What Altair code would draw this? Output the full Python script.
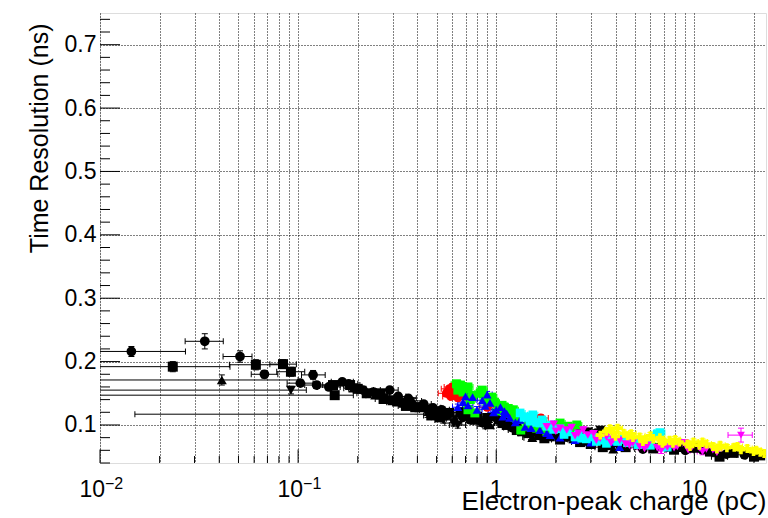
import altair as alt
import pandas as pd

# ---------------- data ----------------
# black series, split by marker: x, y, x-error low/high, y-error
BC_X   = [0.0144, 0.0338, 0.0509, 0.0676, 0.1026, 0.119, 0.124, 0.143, 0.167, 0.213, 0.29, 0.376, 0.53, 0.74, 1.02, 1.43, 2.27, 3.2, 7.3, 11.0, 17.9,
          0.18, 0.24, 0.32, 0.36, 0.43, 0.48, 0.56, 0.68, 0.85, 0.97, 1.2, 1.6, 2.0, 2.8, 3.7, 5.5, 9.0, 14.5]
BC_Y   = [0.216, 0.232, 0.208, 0.180, 0.166, 0.179, 0.163, 0.160, 0.168, 0.155, 0.155, 0.131, 0.124, 0.108, 0.108, 0.087, 0.081, 0.087, 0.065, 0.061, 0.053,
          0.165, 0.152, 0.145, 0.142, 0.133, 0.127, 0.115, 0.112, 0.104, 0.113, 0.096, 0.088, 0.085, 0.075, 0.068, 0.062, 0.060, 0.054]
BC_XLO = [0.005, 0.0269, 0.0418, 0.058, 0.088, 0.104, 0.108, 0.125, 0.147, 0.19, 0.26, 0.34, 0.48, 0.67, 0.93, 1.3, 2.07, 2.9, 6.6, 10.0, 16.3,
          0.16, 0.215, 0.29, 0.325, 0.39, 0.435, 0.51, 0.62, 0.77, 0.88, 1.09, 1.45, 1.82, 2.55, 3.35, 5.0, 8.2, 13.2]
BC_XHI = [0.027, 0.0419, 0.0585, 0.079, 0.119, 0.137, 0.142, 0.163, 0.19, 0.24, 0.32, 0.42, 0.58, 0.81, 1.12, 1.57, 2.5, 3.5, 8.0, 12.1, 19.7,
          0.2, 0.265, 0.35, 0.395, 0.47, 0.525, 0.61, 0.75, 0.93, 1.07, 1.32, 1.76, 2.2, 3.1, 4.05, 6.0, 9.9, 16.0]
BC_YE  = [0.008, 0.012, 0.009, 0.006, 0.005, 0.007, 0.005, 0.005, 0.005, 0.005, 0.005, 0.004, 0.004, 0.004, 0.004, 0.004, 0.004, 0.004, 0.004, 0.004, 0.004,
          0.005, 0.005, 0.005, 0.005, 0.004, 0.004, 0.004, 0.004, 0.004, 0.004, 0.004, 0.004, 0.004, 0.004, 0.004, 0.004, 0.004, 0.004]

BS_X   = [0.0233, 0.0612, 0.0839, 0.092, 0.153, 0.15, 0.183, 0.222, 0.26, 0.30, 0.34, 0.41, 0.46, 0.58, 0.66, 0.8, 0.9, 1.13, 1.27, 1.66, 2.65, 3.45, 7.9, 10.0, 13.4, 15.8, 20.0,
          0.2, 0.27, 0.35, 0.39, 0.47, 0.52, 0.72, 1.08, 1.35, 1.75, 2.1, 3.0, 4.5, 6.2, 12.0, 21.5]
BS_Y   = [0.192, 0.195, 0.196, 0.184, 0.147, 0.163, 0.163, 0.150, 0.150, 0.139, 0.135, 0.128, 0.124, 0.119, 0.120, 0.113, 0.111, 0.100, 0.092, 0.084, 0.073, 0.065, 0.061, 0.064, 0.050, 0.056, 0.050,
          0.157, 0.141, 0.130, 0.128, 0.115, 0.112, 0.118, 0.103, 0.090, 0.079, 0.077, 0.070, 0.065, 0.063, 0.058, 0.052]
BS_XLO = [0.005, 0.045, 0.072, 0.078, 0.005, 0.133, 0.163, 0.198, 0.23, 0.27, 0.30, 0.37, 0.41, 0.52, 0.60, 0.72, 0.82, 1.03, 1.15, 1.5, 2.4, 3.15, 7.2, 9.1, 12.2, 14.4, 18.2,
          0.18, 0.245, 0.32, 0.355, 0.43, 0.47, 0.65, 0.98, 1.22, 1.58, 1.9, 2.72, 4.1, 5.6, 10.9, 19.6]
BS_XHI = [0.0453, 0.08, 0.098, 0.108, 0.19, 0.17, 0.205, 0.25, 0.29, 0.335, 0.38, 0.46, 0.51, 0.64, 0.73, 0.88, 0.99, 1.24, 1.4, 1.83, 2.9, 3.8, 8.7, 11.0, 14.7, 17.4, 22.0,
          0.22, 0.3, 0.385, 0.43, 0.52, 0.57, 0.79, 1.19, 1.49, 1.93, 2.3, 3.3, 4.95, 6.8, 13.2, 23.5]
BS_YE  = [0.008, 0.008, 0.007, 0.007, 0.006, 0.005, 0.005, 0.005, 0.005, 0.005, 0.005, 0.004, 0.004, 0.004, 0.004, 0.004, 0.004, 0.004, 0.004, 0.004, 0.004, 0.004, 0.004, 0.004, 0.004, 0.004, 0.004,
          0.005, 0.005, 0.005, 0.004, 0.004, 0.004, 0.004, 0.004, 0.004, 0.004, 0.004, 0.004, 0.004, 0.004, 0.004, 0.004]

BU_X   = [0.0412, 0.19, 0.245, 0.315, 0.50, 0.93, 1.52, 1.87, 2.6, 3.9, 8.5, 0.38, 0.62, 0.78, 2.45]
BU_Y   = [0.171, 0.158, 0.147, 0.136, 0.120, 0.100, 0.080, 0.081, 0.092, 0.062, 0.064, 0.138, 0.110, 0.107, 0.078]
BU_XLO = [0.005, 0.17, 0.22, 0.28, 0.45, 0.85, 1.38, 1.7, 2.36, 3.55, 7.7, 0.345, 0.56, 0.71, 2.22]
BU_XHI = [0.1, 0.21, 0.27, 0.35, 0.55, 1.02, 1.67, 2.05, 2.86, 4.3, 9.3, 0.42, 0.68, 0.86, 2.7]
BU_YE  = [0.008, 0.005, 0.005, 0.005, 0.004, 0.004, 0.004, 0.004, 0.004, 0.004, 0.004, 0.005, 0.004, 0.004, 0.004]

BD_X   = [0.092, 0.45, 0.54, 0.61, 1.27, 1.5, 2.9, 3.35, 0.64, 0.88]
BD_Y   = [0.155, 0.117, 0.108, 0.103, 0.095, 0.081, 0.089, 0.092, 0.100, 0.098]
BD_XLO = [0.005, 0.015, 0.49, 0.55, 1.15, 1.36, 2.64, 3.05, 0.58, 0.8]
BD_XHI = [0.11, 0.5, 0.59, 0.67, 1.4, 1.65, 3.2, 3.7, 0.7, 0.97]
BD_YE  = [0.006, 0.005, 0.005, 0.005, 0.004, 0.004, 0.004, 0.004, 0.005, 0.004]

# coloured series: x, y, relative x-error, absolute y-error
RED_X = [0.56, 0.58, 0.59, 0.60, 0.61, 0.62, 0.63, 0.64, 0.9, 1.2, 1.68]
RED_Y = [0.150, 0.157, 0.145, 0.160, 0.152, 0.147, 0.156, 0.143, 0.128, 0.118, 0.111]
RED_ERR = (0.09, 0.005)

GREEN_X = [0.63, 0.64, 0.66, 0.68, 0.70, 0.72, 0.72, 0.74, 0.76, 0.78, 0.83, 0.85, 0.88, 0.9, 0.95, 0.98, 1.02, 1.07, 1.1, 1.15, 1.22, 1.24, 1.3, 1.33, 1.43, 1.49, 1.6, 1.7, 1.8, 2.1, 2.3, 2.4, 2.55]
GREEN_Y = [0.165, 0.155, 0.163, 0.152, 0.158, 0.124, 0.160, 0.140, 0.147, 0.119, 0.150, 0.155, 0.143, 0.137, 0.144, 0.136, 0.122, 0.131, 0.128, 0.126, 0.124, 0.112, 0.118, 0.092, 0.097, 0.105, 0.095, 0.102, 0.090, 0.103, 0.098, 0.092, 0.100]
GREEN_ERR = (0.06, 0.005)

BLUE_X = [0.64, 0.68, 0.70, 0.72, 0.76, 0.8, 0.85, 0.88, 0.9, 0.93, 0.97, 1.0, 1.05, 1.08, 1.1, 1.13, 1.17, 1.25, 1.32, 1.4, 1.5, 1.66, 1.8, 1.87, 2.1, 2.5, 3.0, 3.75, 4.2]
BLUE_Y = [0.128, 0.136, 0.145, 0.131, 0.144, 0.124, 0.139, 0.130, 0.148, 0.135, 0.120, 0.124, 0.128, 0.113, 0.122, 0.118, 0.111, 0.104, 0.108, 0.097, 0.095, 0.092, 0.087, 0.084, 0.080, 0.076, 0.072, 0.073, 0.065]
BLUE_ERR = (0.06, 0.005)

CYAN_X = [1.32, 1.38, 1.43, 1.48, 1.53, 1.6, 1.66, 1.7, 1.8, 1.9, 1.95, 2.1, 2.2, 2.3, 2.5, 2.6, 2.7, 2.85, 3.1, 3.2, 3.4, 3.6, 3.75, 4.1, 4.3, 4.6, 5.0, 5.2, 5.8, 6.0, 6.5, 6.7, 7.3]
CYAN_Y = [0.119, 0.112, 0.113, 0.106, 0.116, 0.104, 0.103, 0.108, 0.098, 0.100, 0.093, 0.094, 0.085, 0.089, 0.081, 0.084, 0.079, 0.078, 0.081, 0.074, 0.076, 0.071, 0.076, 0.074, 0.077, 0.072, 0.074, 0.069, 0.072, 0.068, 0.086, 0.088, 0.065]
CYAN_ERR = (0.06, 0.005)

MAGENTA_X = [1.8, 1.95, 2.0, 2.1, 2.27, 2.4, 2.5, 2.6, 2.75, 2.9, 3.1, 3.2, 3.35, 3.6, 3.8, 3.9, 4.2, 4.5, 4.7, 4.9, 5.3, 5.6, 5.8, 6.5, 6.8, 7.0, 7.3, 7.6, 7.9, 8.2, 8.9, 9.3, 9.7, 10.6, 11.0, 11.5, 12.4, 13.0]
MAGENTA_Y = [0.097, 0.101, 0.090, 0.095, 0.092, 0.096, 0.083, 0.087, 0.092, 0.084, 0.086, 0.076, 0.079, 0.081, 0.072, 0.077, 0.076, 0.070, 0.068, 0.072, 0.066, 0.063, 0.068, 0.064, 0.060, 0.067, 0.065, 0.069, 0.064, 0.066, 0.072, 0.061, 0.065, 0.064, 0.058, 0.062, 0.061, 0.057]
MAGENTA_ERR = (0.06, 0.005)
MAGENTA_WIDE_X = [17.2]
MAGENTA_WIDE_Y = [0.084]
MAGENTA_WIDE_ERR = (0.14, 0.011)

YELLOW_X = [3.35, 3.6, 3.75, 3.9, 4.0, 4.1, 4.4, 4.6, 4.8, 4.9, 5.3, 5.5, 5.7, 6.0, 6.2, 6.7, 6.9, 7.0, 7.5, 7.8, 8.0, 8.4, 9.2, 9.5, 9.9, 10.6, 11.0, 11.5, 12.4, 13.0, 13.5, 14.6, 15.9, 16.5, 17.2, 18.5, 19.9, 20.5, 21.5, 22.5]
YELLOW_Y = [0.084, 0.090, 0.094, 0.088, 0.082, 0.095, 0.087, 0.083, 0.086, 0.080, 0.081, 0.074, 0.077, 0.083, 0.078, 0.080, 0.071, 0.074, 0.076, 0.071, 0.077, 0.073, 0.070, 0.066, 0.073, 0.068, 0.073, 0.070, 0.066, 0.062, 0.068, 0.064, 0.065, 0.066, 0.061, 0.063, 0.058, 0.060, 0.057, 0.055]
YELLOW_ERR = (0.06, 0.005)

# axis ticks and labels
X_DOMAIN = [0.01, 23]
Y_DOMAIN = [0.04, 0.75]
X_MAJOR = [0.01, 0.1, 1, 10]
X_MINOR = [k * 10.0 ** e for e in (-2, -1, 0, 1) for k in range(2, 10) if k * 10.0 ** e <= 23]
Y_MAJOR = [0.1, 0.2, 0.3, 0.4, 0.5, 0.6, 0.7]
Y_MINOR = [round(0.04 + 0.02 * i, 2) for i in range(36) if round(0.04 + 0.02 * i, 2) not in Y_MAJOR]
X_LABEL_EXP_VALUES = [0.01, 0.1]
X_LABEL_EXP_TEXT = ["\u22122", "\u22121"]
X_LABEL_PLAIN_VALUES = [1, 10]
X_LABEL_PLAIN_TEXT = ["1", "10"]

W, H = 666, 450
FONT = "Liberation Sans"


def rows(xs, ys, xlo, xhi, ye, color, shape, size):
    return [dict(x=a, y=b, xlo=c, xhi=d, ylo=b - e, yhi=b + e,
                 color=color, shape=shape, size=size)
            for a, b, c, d, e in zip(xs, ys, xlo, xhi, ye)]


def rel_rows(xs, ys, err, color, shape, size):
    rx, ey = err
    return rows(xs, ys, [v * (1 - rx) for v in xs], [v * (1 + rx) for v in xs],
                [ey] * len(xs), color, shape, size)


records = []
records += rows(BC_X, BC_Y, BC_XLO, BC_XHI, BC_YE, "#000000", "circle", 95)
records += rows(BS_X, BS_Y, BS_XLO, BS_XHI, BS_YE, "#000000", "square", 100)
records += rows(BU_X, BU_Y, BU_XLO, BU_XHI, BU_YE, "#000000", "triangle-up", 100)
records += rows(BD_X, BD_Y, BD_XLO, BD_XHI, BD_YE, "#000000", "triangle-down", 100)
records += rel_rows(RED_X, RED_Y, RED_ERR, "#ff0000", "circle", 80)
records += rel_rows(GREEN_X, GREEN_Y, GREEN_ERR, "#00ff00", "square", 80)
records += rel_rows(BLUE_X, BLUE_Y, BLUE_ERR, "#0000ff", "triangle-up", 80)
records += rel_rows(CYAN_X, CYAN_Y, CYAN_ERR, "#00ffff", "square", 75)
records += rel_rows(MAGENTA_X, MAGENTA_Y, MAGENTA_ERR, "#ff00ff", "triangle-down", 75)
records += rel_rows(MAGENTA_WIDE_X, MAGENTA_WIDE_Y, MAGENTA_WIDE_ERR, "#ff00ff", "triangle-down", 60)
records += rel_rows(YELLOW_X, YELLOW_Y, YELLOW_ERR, "#ffff00", "cross", 80)
pts = pd.DataFrame(records)

xscale = alt.Scale(type="log", domain=X_DOMAIN, nice=False)
yscale = alt.Scale(domain=Y_DOMAIN, nice=False, zero=False)

x_axis = alt.Axis(values=X_MAJOR + X_MINOR, labels=False, ticks=False, domain=False,
                  grid=True, gridDash=[1, 2], gridColor="#000000", gridWidth=1,
                  title="Electron-peak charge (pC)", titleFont=FONT, titleFontSize=26,
                  titleFontWeight="normal", titleColor="#000000",
                  titleX=W, titleY=46, titleAlign="right", titleBaseline="alphabetic")
y_axis = alt.Axis(values=Y_MAJOR, format=".1f", ticks=False, domain=False,
                  labelFont=FONT, labelFontSize=23, labelColor="#000000", labelPadding=4,
                  grid=True, gridDash=[1, 2], gridColor="#000000", gridWidth=1,
                  title="Time Resolution (ns)", titleFont=FONT, titleFontSize=25,
                  titleFontWeight="normal", titleColor="#000000",
                  titleAngle=270, titleAlign="right", titleBaseline="alphabetic",
                  titleX=-53, titleY=10)

X = lambda f: alt.X(f, type="quantitative", scale=xscale, axis=x_axis)
Y = lambda f: alt.Y(f, type="quantitative", scale=yscale, axis=y_axis)
COLOR = alt.Color("color:N", scale=None)

base = alt.Chart(pts)

hbar = base.mark_rule(clip=True, strokeWidth=1).encode(x=X("xlo"), x2="xhi", y=Y("y"), color=COLOR)
vbar = base.mark_rule(clip=True, strokeWidth=1).encode(x=X("x"), y=Y("ylo"), y2="yhi", color=COLOR)

caps_h = pd.concat([pts.assign(cx=pts.xlo), pts.assign(cx=pts.xhi)])
caps_v = pd.concat([pts.assign(cy=pts.ylo), pts.assign(cy=pts.yhi)])
hcap = alt.Chart(caps_h).mark_tick(orient="vertical", size=6, thickness=1, clip=True, opacity=1).encode(
    x=X("cx"), y=Y("y"), color=COLOR)
vcap = alt.Chart(caps_v).mark_tick(orient="horizontal", size=6, thickness=1, clip=True, opacity=1).encode(
    x=X("x"), y=Y("cy"), color=COLOR)

points = base.mark_point(filled=True, opacity=1, strokeWidth=0, clip=True).encode(
    x=X("x"), y=Y("y"), color=COLOR,
    shape=alt.Shape("shape:N", scale=None),
    size=alt.Size("size:Q", scale=None))


# inward tick marks on the left and bottom frame
def yticks(vals, length):
    return alt.Chart(pd.DataFrame({"v": vals})).mark_rule(color="#000000", strokeWidth=1).encode(
        y=Y("v"), x=alt.value(0), x2=alt.value(length))


def xticks(vals, length):
    return alt.Chart(pd.DataFrame({"v": vals})).mark_rule(color="#000000", strokeWidth=1).encode(
        x=X("v"), y=alt.value(H), y2=alt.value(H - length))


exp_df = pd.DataFrame({"v": X_LABEL_EXP_VALUES, "base": ["10"] * len(X_LABEL_EXP_VALUES),
                       "exp": X_LABEL_EXP_TEXT})
plain_df = pd.DataFrame({"v": X_LABEL_PLAIN_VALUES, "t": X_LABEL_PLAIN_TEXT})
lab_base = alt.Chart(exp_df).mark_text(font=FONT, fontSize=23, align="right", baseline="alphabetic",
                                       dx=5, color="#000000").encode(
    x=X("v"), y=alt.value(H + 34), text="base:N")
lab_exp = alt.Chart(exp_df).mark_text(font=FONT, fontSize=16, align="left", baseline="alphabetic",
                                      dx=5, color="#000000").encode(
    x=X("v"), y=alt.value(H + 26), text="exp:N")
lab_plain = alt.Chart(plain_df).mark_text(font=FONT, fontSize=23, align="center", baseline="alphabetic",
                                          color="#000000").encode(
    x=X("v"), y=alt.value(H + 34), text="t:N")

chart = alt.layer(
    hbar, vbar, hcap, vcap, points,
    yticks(Y_MAJOR, 20), yticks(Y_MINOR, 10),
    xticks(X_MAJOR, 13.5), xticks(X_MINOR, 7),
    lab_base, lab_exp, lab_plain,
).properties(
    width=W, height=H, autosize="none",
    padding={"left": 100, "top": 13, "right": 2, "bottom": 55},
).configure_view(stroke="#000000", strokeWidth=1).configure(background="white")

chart.save("out.html", embed_options={"renderer": "svg", "actions": False})
